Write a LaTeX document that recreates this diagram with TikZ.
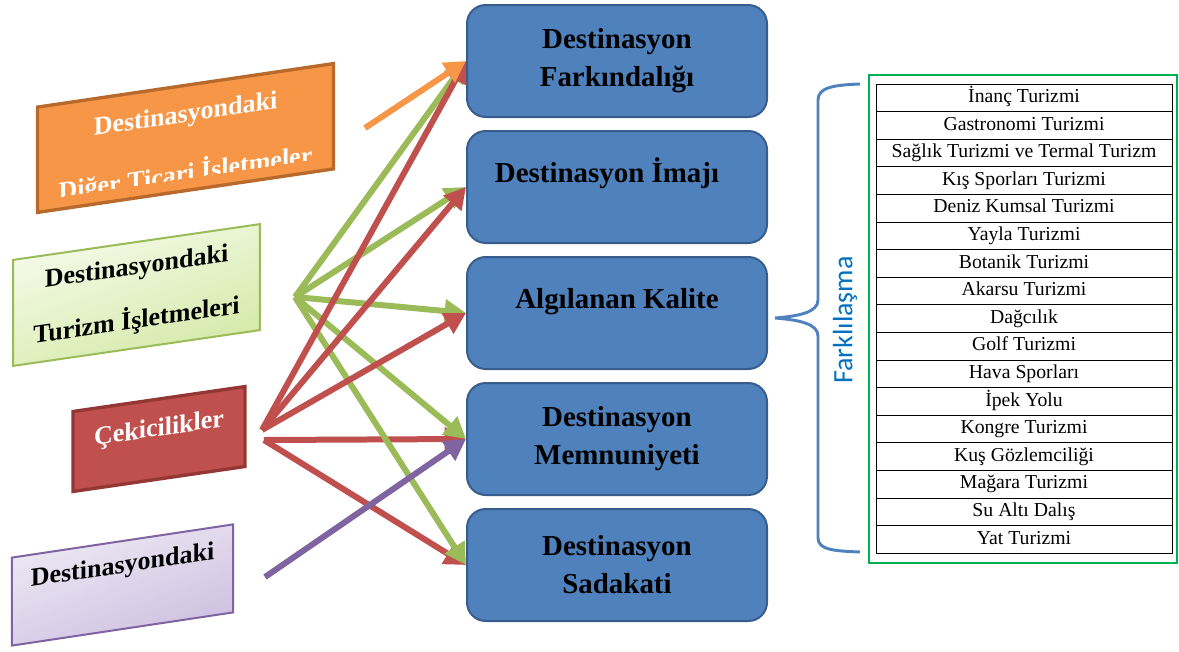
\documentclass[tikz,border=0pt]{standalone}
\usepackage{fontspec}
\setmainfont{Liberation Serif}
\newfontfamily\calibri{Carlito}
\usetikzlibrary{positioning,arrows.meta}

\definecolor{boxblue}{HTML}{4F81BD}
\definecolor{boxedge}{HTML}{385D8A}
\definecolor{arrgreen}{HTML}{9BBB59}
\definecolor{arrred}{HTML}{C0504D}
\definecolor{arrorange}{HTML}{F79646}
\definecolor{arrpurple}{HTML}{8064A2}
\definecolor{orangeedge}{HTML}{B8692B}
\definecolor{rededge}{HTML}{943634}
\definecolor{gtop}{HTML}{F6FBEA}
\definecolor{gbot}{HTML}{D3E9A6}
\definecolor{ptop}{HTML}{EEEAF4}
\definecolor{pbot}{HTML}{CDBFE0}
\definecolor{tblgreen}{HTML}{00B050}
\definecolor{textblue}{HTML}{0070C0}

\tikzset{
  mbox/.style={draw=boxedge, line width=1.5pt, fill=boxblue, rounded corners=14pt,
    minimum width=225pt, minimum height=84pt, align=center,
    font=\fontsize{21.7}{28.5}\selectfont\bfseries},
  upper/.style={text height=15pt, text depth=21.8pt},
  sbox/.style={line width=1.5pt, align=center, inner sep=0pt,
    font=\fontsize{19.5}{40.5}\selectfont\bfseries},
  link/.style={line width=4.5pt, -{Triangle[length=16pt,width=17pt]}},
  cell/.style={draw, line width=0.6pt, minimum width=222pt, minimum height=20.7pt,
    inner sep=0pt, font=\fontsize{14.8}{16}\selectfont, text height=10pt, text depth=3pt},
  brace/.style={draw=boxblue, line width=2.2pt},
}

\begin{document}
\begin{tikzpicture}[x=0.75pt,y={(0pt,-0.75pt)}]
\useasboundingbox (0,0) rectangle (1179,651);

% left side boxes
\begin{scope}[shift={(185.5,138)},yslant=0.147,transform shape]
  \node[draw=orangeedge, line width=2.5pt, fill=arrorange, minimum width=222pt, minimum height=79pt] (diger) at (0,0) {};
  \clip (-146,-50) rectangle (146,40);
  \node[sbox, text=white, anchor=base] (digera) at (0,-16) {Destinasyondaki};
  \node[sbox, text=white, anchor=base] (digerb) at (0,44) {Diğer Ticari İşletmeler};
\end{scope}

\node[sbox, draw=arrgreen, top color=gtop, bottom color=gbot, shading angle=20, yslant=0.145,
  minimum width=185pt, minimum height=79.5pt] (turizm) at (136.5,295) {Destinasyondaki\\Turizm İşletmeleri};
\node[sbox, draw=rededge, line width=2.5pt, fill=arrred, text=white, yslant=0.145,
  minimum width=129pt, minimum height=60pt, text height=13.2pt, text depth=17.7pt] (cekicilik) at (159,439) {Çekicilikler};
\node[sbox, draw=arrpurple, top color=ptop, bottom color=pbot, shading angle=20, yslant=0.15,
  minimum width=166pt, minimum height=66pt, text height=13.2pt, text depth=31.2pt] (diger2) at (122.5,585) {Destinasyondaki};

% middle boxes
\node[mbox] (farkindalik) at (617,61) {Destinasyon\\Farkındalığı};
\node[mbox, upper, below=9pt of farkindalik] (imaj) {Destinasyon İmajı\hspace*{15pt}};
\node[mbox, upper, below=9pt of imaj] (kalite) {Algılanan Kalite};
\node[mbox, below=9pt of kalite] (memnuniyet) {Destinasyon\\Memnuniyeti};
\node[mbox, below=9pt of memnuniyet] (sadakat) {Destinasyon\\Sadakati};

% arrows
\coordinate (ohub) at (365,128);
\coordinate (ghub) at (295,297);
\coordinate (rhub) at (262,430);
\coordinate (rhubb) at (264,440);
\coordinate (phub) at (265,577);
\foreach \b in {memnuniyet,sadakat}
  \draw[link, arrred] (rhubb) -- (\b.west);
\foreach \b in {farkindalik,imaj,kalite,memnuniyet,sadakat}
  \draw[link, arrgreen] (ghub) -- (\b.west);
\foreach \b in {farkindalik,imaj,kalite}
  \draw[link, arrred] (rhub) -- (\b.west);
\draw[link, arrpurple] (phub) -- (memnuniyet.west);
\draw[link, arrorange] (ohub) -- (farkindalik.west);

% brace and table
\draw[brace] (860,84) .. controls (835,85) and (818,87) .. (818,100) -- (818,300)
  .. controls (818,312) and (800,316) .. (775,318) .. controls (800,320) and (818,324) .. (818,336)
  -- (818,538) .. controls (818,550) and (835,551) .. (860,552);
\node[rotate=90, font=\calibri\fontsize{21}{24}\selectfont, text=textblue] (farklilasma) at (845,320) {Farklılaşma};

\draw[tblgreen, line width=1.5pt] (869,75) rectangle (1177,563);
\foreach \t [count=\i] in {İnanç Turizmi, Gastronomi Turizmi, Sağlık Turizmi ve Termal Turizm,
  Kış Sporları Turizmi, Deniz Kumsal Turizmi, Yayla Turizmi, Botanik Turizmi, Akarsu Turizmi,
  Dağcılık, Golf Turizmi, Hava Sporları, İpek Yolu, Kongre Turizmi, Kuş Gözlemciliği,
  Mağara Turizmi, Su Altı Dalış, Yat Turizmi}
  \node[cell] (c\i) at (1024,{84+27.6*(\i-0.5)}) {\t};
\end{tikzpicture}
\end{document}
